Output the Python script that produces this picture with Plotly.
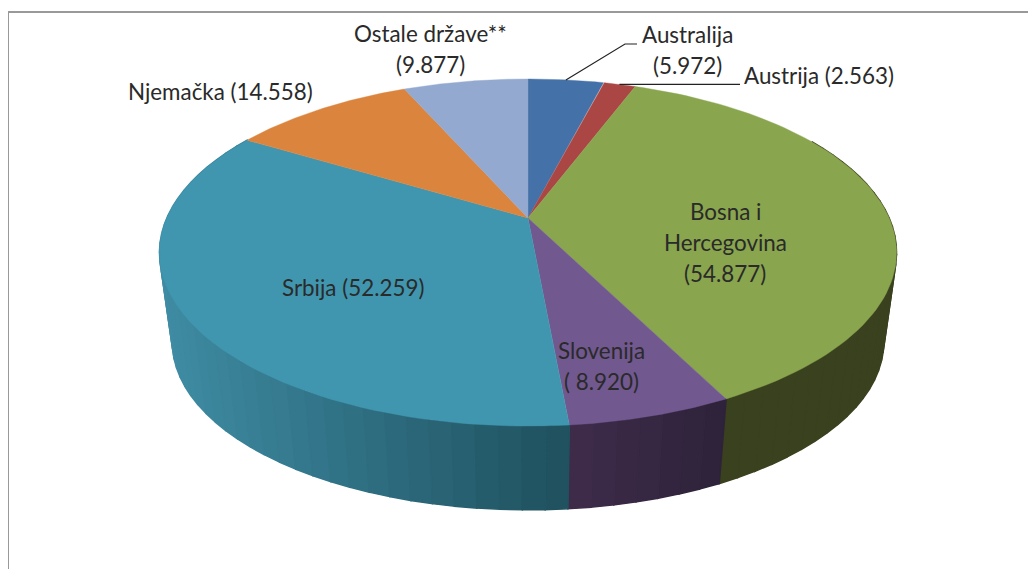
import numpy as np
import plotly.graph_objects as go

countries = ["Australija", "Austrija", "Bosna i Hercegovina", "Slovenija", "Srbija", "Njemačka", "Ostale države**"]
values = [5.972, 2.563, 54.877, 8.920, 52.259, 14.558, 9.877]
labels = ["Australija<br>(5.972)", "Austrija (2.563)", "Bosna i<br>Hercegovina<br>(54.877)",
          "Slovenija<br>( 8.920)", "Srbija (52.259)", "Njemačka (14.558)", "Ostale države**<br>(9.877)"]
top_colors = ["#4571a9", "#aa4644", "#89a54e", "#71588f", "#4096af", "#db843d", "#93a9cf"]
side_left = ["#2c4a70", "#702e2c", "#3a411e", "#3f2c4b", "#3f8ca4", "#915724", "#5f7088"]
side_right = ["#2c4a70", "#702e2c", "#3a411e", "#2d2239", "#1f505e", "#915724", "#5f7088"]
label_xy = [(687, 50), (819, 75), (725, 242), (601, 366), (353, 287), (220, 91), (430, 49)]

CX, CY, A, B, K = 528, 218, 361.2, 166.7, 0.199
S, Y0 = 0.965, 91
LINE_GAP = 31
PAGE_MARGIN = 8  # the browser's default body margin
W, H = 1036 - PAGE_MARGIN, 569 - PAGE_MARGIN


def project(theta_deg):
    t = np.radians(theta_deg)
    X, Y = np.sin(t), np.cos(t)
    w = 1 + K * Y
    return A * X / w, B * Y / w


def top_xy(theta):
    u, v = project(theta)
    return CX + u, CY - v


def bottom_xy(theta):
    u, v = project(theta)
    return CX + S * u, CY + Y0 - S * v


def mix(c1, c2, f):
    a = [int(c1[i:i + 2], 16) for i in (1, 3, 5)]
    b = [int(c2[i:i + 2], 16) for i in (1, 3, 5)]
    return "rgb(%d,%d,%d)" % tuple(round(p + (q - p) * f) for p, q in zip(a, b))


edges = np.concatenate([[0], np.cumsum(values)]) / sum(values) * 360
fig = go.Figure()

# side wall, as narrow strips so that the shading can change along it
strips = []
for i in range(len(values)):
    a0, a1 = edges[i], edges[i + 1]
    n = max(2, int((a1 - a0) / 3))
    steps = np.linspace(a0, a1, n + 1)
    xs = top_xy(np.linspace(max(a0, 60), min(a1, 300), 200))[0]
    for j in range(n):
        lo, hi = steps[j], steps[j + 1]
        if hi < 60 or lo > 300:
            continue
        strips.append((i, lo, hi, xs.min(), xs.max()))

# paint from the back of the pie to the front
strips.sort(key=lambda s: -abs((s[1] + s[2]) / 2 - 180))
for i, lo, hi, xmin, xmax in strips:
    arc = np.linspace(lo, hi, 6)
    tx, ty = top_xy(arc)
    bx, by = bottom_xy(arc[::-1])
    f = (tx.mean() - xmin) / max(xmax - xmin, 1)
    c = mix(side_left[i], side_right[i], f)
    fig.add_trace(go.Scatter(
        x=np.concatenate([tx, bx, tx[:1]]), y=np.concatenate([ty, by, ty[:1]]),
        mode="lines", fill="toself", fillcolor=c, line=dict(width=1.5, color=c),
        hoverinfo="skip", showlegend=False))

# top face
for i in range(len(values)):
    arc = np.linspace(edges[i], edges[i + 1], 80)
    tx, ty = top_xy(arc)
    fig.add_trace(go.Scatter(
        x=np.concatenate([[CX], tx, [CX]]), y=np.concatenate([[CY], ty, [CY]]),
        mode="lines", fill="toself", fillcolor=top_colors[i],
        line=dict(width=0.4, color=top_colors[i]),
        name=countries[i], hoverinfo="name", showlegend=False))

# leader lines
lead_a = top_xy((edges[0] + edges[1]) / 2)
lead_b = top_xy((edges[1] + edges[2]) / 2)
fig.add_trace(go.Scatter(x=[lead_a[0], 625, 637], y=[lead_a[1], 44, 44], mode="lines",
                         line=dict(color="#222222", width=1.2), hoverinfo="skip", showlegend=False))
fig.add_trace(go.Scatter(x=[lead_b[0], 740], y=[lead_b[1], lead_b[1]], mode="lines",
                         line=dict(color="#222222", width=1.2), hoverinfo="skip", showlegend=False))

# labels, one annotation per line so that the line spacing can be set
for text, (x, y) in zip(labels, label_xy):
    lines = text.split("<br>")
    for k, line in enumerate(lines):
        fig.add_annotation(x=x, y=y + (k - (len(lines) - 1) / 2) * LINE_GAP, text=line,
                           showarrow=False, xanchor="center", yanchor="middle",
                           font=dict(family="Lato", size=22.4, color="#2a2a2a"))

fig.update_layout(
    width=W, height=H, margin=dict(l=0, r=0, t=0, b=0),
    paper_bgcolor="white", plot_bgcolor="white", showlegend=False,
    xaxis=dict(range=[PAGE_MARGIN, 1036], visible=False, fixedrange=True),
    yaxis=dict(range=[569, PAGE_MARGIN], visible=False, fixedrange=True),
    shapes=[dict(type="path", xref="x", yref="y", path="M 8 569 L 8 12 L 1036 12",
                 line=dict(color="#999999", width=2))],
)
fig.write_html("out.html")
